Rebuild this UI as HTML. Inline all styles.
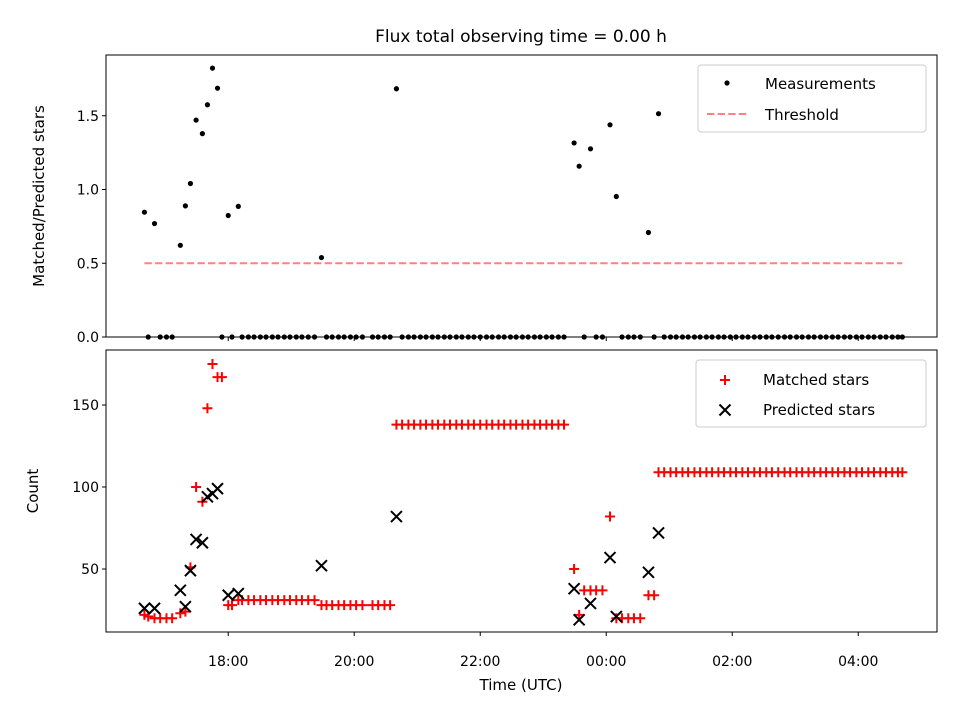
<!DOCTYPE html>
<html><head><meta charset="utf-8"><style>
body{margin:0;background:#fff;}
svg text{font-family:"DejaVu Sans","Liberation Sans",sans-serif;fill:#000;}
</style></head><body>
<svg id="c" width="960" height="720" xmlns="http://www.w3.org/2000/svg"></svg>
<script>
// times in hours relative to 18:00 UTC
const measTimes=[-1.33,-1.17,-0.76,-0.68,-0.60,-0.51,-0.41,-0.33,-0.25,-0.17,0.00,0.16,1.48,2.67,5.49,5.57,5.75,6.06,6.16,6.67,6.83];
const measMatched=[22,20,23,24,51,100,91,148,175,167,28,31,28,138,50,22,37,82,20,34,109];
const measPredicted=[26,26,37,27,49,68,66,94,96,99,34,35,52,82,38,19,29,57,21,48,72];
const zeroTimes=[-1.27,-1.08,-0.98,-0.89,-0.10,0.06,
0.22,0.32,0.41,0.51,0.60,0.70,0.79,0.89,0.98,1.08,1.17,1.27,1.37,
1.56,1.65,1.75,1.84,1.94,2.03,2.13,2.29,2.38,2.48,2.57,
2.76,2.86,2.95,3.05,3.14,3.24,3.33,3.43,3.52,3.62,3.71,3.81,3.90,4.00,4.10,4.19,4.29,4.38,4.48,4.57,4.67,4.76,4.86,4.95,5.05,5.14,5.24,5.33,
5.65,5.84,5.94,6.25,6.35,6.44,6.54,6.76,
6.92,7.02,7.11,7.21,7.30,7.40,7.49,7.59,7.68,7.78,7.87,7.97,8.06,8.16,8.25,8.35,8.44,8.54,8.63,8.73,8.83,8.92,9.02,9.11,9.21,9.30,9.40,9.49,9.59,9.68,9.78,9.87,9.97,10.06,10.16,10.25,10.35,10.44,10.54,10.63,10.70];
const zeroMatched=[21,20,20,20,167,28,
31,31,31,31,31,31,31,31,31,31,31,31,31,
28,28,28,28,28,28,28,28,28,28,28,
138,138,138,138,138,138,138,138,138,138,138,138,138,138,138,138,138,138,138,138,138,138,138,138,138,138,138,138,
37,37,37,20,20,20,20,34,
109,109,109,109,109,109,109,109,109,109,109,109,109,109,109,109,109,109,109,109,109,109,109,109,109,109,109,109,109,109,109,109,109,109,109,109,109,109,109,109,109];
const threshold=0.5, thrStart=-1.33, thrEnd=10.70;
const xTickVals=[0,2,4,6,8,10];
const xTickLabels=["18:00","20:00","22:00","00:00","02:00","04:00"];
const topTicks=[0,0.5,1.0,1.5];
const botTicks=[50,100,150];

const NS="http://www.w3.org/2000/svg";
const svg=document.getElementById('c');
function el(t,a,p){const e=document.createElementNS(NS,t);for(const k in a)e.setAttribute(k,a[k]);(p||svg).appendChild(e);return e;}
const L=106,R=937;
const X=t=>L+(t+1.94)/(13.19)*(R-L);
const YT=v=>337-v*147.5;
const YB=v=>651-v*1.64;

let t=el('text',{x:521,y:42,'font-size':17,'text-anchor':'middle'});t.textContent='Flux total observing time = 0.00 h';


const gTop=el('g',{});
let th=el('line',{x1:X(thrStart),x2:X(thrEnd),y1:YT(threshold),y2:YT(threshold),stroke:'#ff8080','stroke-width':2,'stroke-dasharray':'7.4,3.2'},gTop);

measTimes.forEach((tt,i)=>{const c=el('circle',{cx:X(tt),cy:YT(measMatched[i]/measPredicted[i]),r:2.6,fill:'#000'},gTop);
});
zeroTimes.forEach(tt=>{const c=el('circle',{cx:X(tt),cy:YT(0),r:2.6,fill:'#000'},gTop);
});
el('rect',{x:L,y:55,width:R-L,height:282,fill:'none',stroke:'#000','stroke-width':1},gTop);
topTicks.forEach(v=>{el('line',{x1:L-4,x2:L,y1:YT(v),y2:YT(v),stroke:'#000'},gTop);
const tx=el('text',{x:L-7,y:YT(v)+5,'font-size':14,'text-anchor':'end'},gTop);tx.textContent=v.toFixed(1);
});
xTickVals.forEach(v=>el('line',{x1:X(v),x2:X(v),y1:337,y2:341,stroke:'#000'},gTop));
t=el('text',{x:44,y:196,'font-size':15,'text-anchor':'middle',transform:'rotate(-90 44 196)'},gTop);t.textContent='Matched/Predicted stars';

const lg1=el('g',{},gTop);
el('rect',{x:698,y:65,width:228,height:67,rx:3,fill:'#fff',stroke:'#ccc'},lg1);
el('circle',{cx:727,cy:83,r:2.6,fill:'#000'},lg1);
t=el('text',{x:765,y:89,'font-size':15},lg1);t.textContent='Measurements';

el('line',{x1:707,x2:747,y1:114,y2:114,stroke:'#ff8080','stroke-width':2,'stroke-dasharray':'7.4,3.2'},lg1);
t=el('text',{x:765,y:120,'font-size':15},lg1);t.textContent='Threshold';


const gB=el('g',{});
function plus(x,y,p){el('path',{d:`M${x-5},${y}H${x+5}M${x},${y-5}V${y+5}`,stroke:'#f00','stroke-width':2},p);}
function cross(x,y,p){el('path',{d:`M${x-5.5},${y-5.5}L${x+5.5},${y+5.5}M${x-5.5},${y+5.5}L${x+5.5},${y-5.5}`,stroke:'#000','stroke-width':2},p);}
const mg=el('g',{},gB);
measTimes.forEach((tt,i)=>plus(X(tt),YB(measMatched[i]),mg));
zeroTimes.forEach((tt,i)=>plus(X(tt),YB(zeroMatched[i]),mg));
const pg=el('g',{},gB);
measTimes.forEach((tt,i)=>cross(X(tt),YB(measPredicted[i]),pg));
el('rect',{x:L,y:350,width:R-L,height:282,fill:'none',stroke:'#000','stroke-width':1},gB);
botTicks.forEach(v=>{el('line',{x1:L-4,x2:L,y1:YB(v),y2:YB(v),stroke:'#000'},gB);
const tx=el('text',{x:L-7,y:YB(v)+5,'font-size':14,'text-anchor':'end'},gB);tx.textContent=v;
});
xTickVals.forEach((v,i)=>{el('line',{x1:X(v),x2:X(v),y1:632,y2:636,stroke:'#000'},gB);
const tx=el('text',{x:X(v),y:666,'font-size':14,'text-anchor':'middle'},gB);tx.textContent=xTickLabels[i];
});
t=el('text',{x:521,y:690,'font-size':15,'text-anchor':'middle'},gB);t.textContent='Time (UTC)';

t=el('text',{x:38,y:491,'font-size':15,'text-anchor':'middle',transform:'rotate(-90 38 491)'},gB);t.textContent='Count';

const lg2=el('g',{},gB);
el('rect',{x:696,y:360,width:230,height:67,rx:3,fill:'#fff',stroke:'#ccc'},lg2);
plus(725,380,lg2);
t=el('text',{x:763,y:385,'font-size':15},lg2);t.textContent='Matched stars';

cross(725,410,lg2);
t=el('text',{x:763,y:415,'font-size':15},lg2);t.textContent='Predicted stars';

</script>
</body></html>
